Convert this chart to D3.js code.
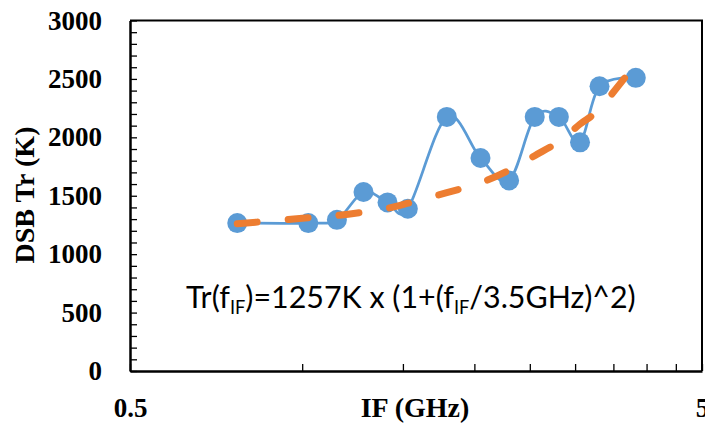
<!DOCTYPE html>
<html>
<head>
<meta charset="utf-8">
<script src="https://cdn.jsdelivr.net/npm/d3@7"></script>
<style>
  body { margin: 0; background: #fff; }
  svg { display: block; }
</style>
</head>
<body>
<div id="chart"></div>
<script>
// measured receiver temperature vs IF
var ifGHz  = [0.77, 1.025, 1.15, 1.28, 1.41, 1.53, 1.79, 2.05, 2.3, 2.55, 2.81, 3.06, 3.31, 3.83];
var trMeas = [1266, 1266, 1294, 1532, 1443, 1389, 2175, 1823, 1631, 2175, 2175, 1957, 2437, 2509];
// fitted curve at the same IF points
var trFit  = [1260, 1311, 1331, 1360, 1393, 1436, 1526, 1611, 1719, 1843, 1963, 2113, 2246, 2630];

var xTicks = [0.5, 1, 1.5, 2, 2.5, 3, 3.5, 4, 4.5, 5];
var xTickLabels = [0.5, 5];
var yLabels = [0, 500, 1000, 1500, 2000, 2500, 3000];

var W = 705, H = 424;
var plot = {left: 130, right: 702, top: 20.5, bottom: 371};

var svg = d3.select("#chart").append("svg")
    .attr("width", W)
    .attr("height", H);

var x = d3.scaleLog().domain([0.5, 5]).range([plot.left, plot.right]);
var y = d3.scaleLinear().domain([0, 3000]).range([plot.bottom, plot.top]);

// frame (top and right sides)
svg.append("path")
    .attr("d", "M" + plot.left + "," + plot.top + "H" + plot.right + "V" + plot.bottom)
    .attr("fill", "none")
    .attr("stroke", "#000")
    .attr("stroke-width", 2);

// y axis, ticks every 100 drawn inward
var yAxis = svg.append("g")
    .attr("transform", "translate(" + plot.left + ",0)")
    .call(d3.axisLeft(y)
        .tickValues(d3.range(0, 3001, 100))
        .tickSize(-7)
        .tickSizeOuter(0)
        .tickPadding(28)
        .tickFormat(function(d) { return yLabels.indexOf(d) >= 0 ? d : ""; }));

// x axis, log
var xAxis = svg.append("g")
    .attr("transform", "translate(0," + plot.bottom + ")")
    .call(d3.axisBottom(x)
        .tickValues(xTicks)
        .tickSize(-7)
        .tickSizeOuter(0)
        .tickPadding(27)
        .tickFormat(function(d) { return xTickLabels.indexOf(d) >= 0 ? d : ""; }));

[yAxis, xAxis].forEach(function(g) {
    g.select(".domain").attr("stroke-width", 2.5);
    g.selectAll(".tick line").attr("stroke-width", 1.3);
    g.selectAll("text")
        .attr("font-family", "Liberation Serif")
        .attr("font-weight", "bold")
        .attr("font-size", 27)
        .attr("fill", "#000");
});

// axis titles
svg.append("text")
    .attr("transform", "translate(34,195) rotate(-90)")
    .attr("text-anchor", "middle")
    .attr("font-family", "Liberation Serif")
    .attr("font-weight", "bold")
    .attr("font-size", 28)
    .text("DSB Tr (K)");

svg.append("text")
    .attr("x", 415)
    .attr("y", 417)
    .attr("text-anchor", "middle")
    .attr("font-family", "Liberation Serif")
    .attr("font-weight", "bold")
    .attr("font-size", 28)
    .text("IF (GHz)");

// measured series
var line = d3.line()
    .x(function(d, i) { return x(ifGHz[i]); })
    .y(function(d) { return y(d); })
    .curve(d3.curveCatmullRom.alpha(0));

svg.append("path")
    .datum(trMeas)
    .attr("d", line)
    .attr("fill", "none")
    .attr("stroke", "#5B9BD5")
    .attr("stroke-width", 2.75);

svg.selectAll(".pt")
    .data(trMeas)
    .enter().append("circle")
    .attr("class", "pt")
    .attr("cx", function(d, i) { return x(ifGHz[i]); })
    .attr("cy", function(d) { return y(d); })
    .attr("r", 10)
    .attr("fill", "#5B9BD5");

// fit series
svg.append("path")
    .datum(trFit)
    .attr("d", line)
    .attr("fill", "none")
    .attr("stroke", "#ED7D31")
    .attr("stroke-width", 7)
    .attr("stroke-linecap", "round")
    .attr("stroke-dasharray", "20,31");

// formula
var eq = svg.append("text")
    .attr("x", 186)
    .attr("y", 308)
    .attr("font-family", "Lato")
    .attr("font-size", 30)
    .attr("fill", "#000");
eq.append("tspan").text("Tr(f");
eq.append("tspan").attr("font-size", "60%").attr("dy", 6).text("IF");
eq.append("tspan").attr("dy", -6).text(")=1257K x (1+(f");
eq.append("tspan").attr("font-size", "60%").attr("dy", 6).text("IF");
eq.append("tspan").attr("dy", -6).text("/3.5GHz)^2)");

var len = eq.node().getComputedTextLength();
eq.attr("font-size", 30 * 450 / len);
</script>
</body>
</html>
